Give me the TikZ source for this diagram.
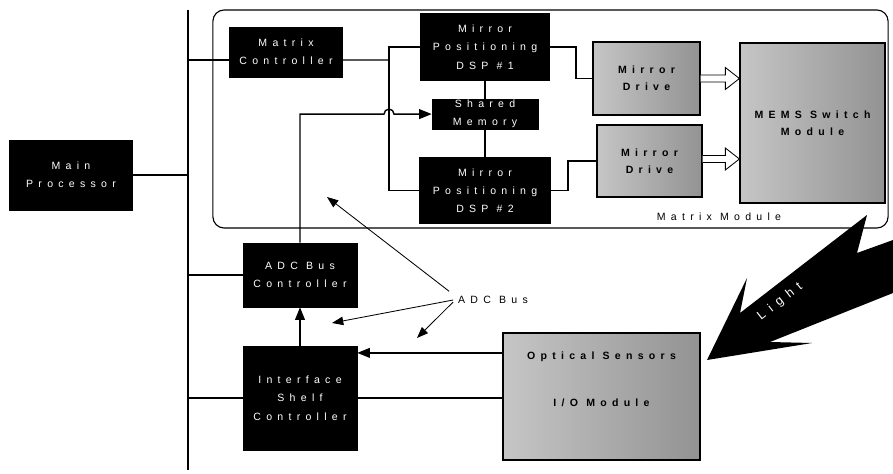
\documentclass[tikz,border=0pt]{standalone}
\usepackage{fontspec}
\newfontfamily\boxfont[LetterSpace=50]{Liberation Sans}
\usetikzlibrary{arrows.meta, positioning, calc}

\begin{document}
\begin{tikzpicture}[
x=0.025cm, y=-0.025cm,
every node/.style={font=\boxfont\fontsize{7.5}{13}\selectfont},
blackbox/.style={draw, fill=black, text=white, align=center, inner sep=0pt},
graybox/.style={draw, thick, left color=gray!45, right color=gray!85, align=center, inner sep=0pt,
  font=\boxfont\bfseries\fontsize{7.5}{12}\selectfont},
module/.style={draw, thick, rounded corners=8pt, inner sep=0pt},
link/.style={line width=1pt},
arrow/.style={line width=1pt, -{Triangle[length=9pt, width=7pt]}},
pointer/.style={semithick, -{Triangle[length=8pt, width=6pt]}},
fatarrow/.style={semithick, fill=white, to path={
  let \p1=(\tikztostart), \p2=(\tikztotarget) in
  (\x1,\y1+2.5pt) -- (\x2-10pt,\y1+2.5pt) -- (\x2-10pt,\y1+7.8pt) -- (\x2,\y1)
  -- (\x2-10pt,\y1-7.8pt) -- (\x2-10pt,\y1-2.5pt) -- (\x1,\y1-2.5pt)}}
]
\useasboundingbox (0,0) rectangle (893,473);

% matrix module frame
\node[module, minimum width=16.875cm, minimum height=5.45cm] (module) at (550.5,119) {};
\node (modlbl) at (719,217) {Matrix Module};

% system bus
\coordinate (bustop) at (188,10);
\coordinate (busbot) at (188,470);
\draw[link] (bustop) -- (busbot);

\node[blackbox, minimum width=3.075cm, minimum height=1.75cm] (main) at (71,175) {Main\\Processor};
\node[blackbox, minimum width=2.825cm, minimum height=1.25cm] (mctrl) at (286,52) {Matrix\\Controller};
\node[blackbox, minimum width=3.225cm, minimum height=1.675cm] (dsp1) at (485,47) {Mirror\\Positioning\\DSP \#1};
\node[blackbox, minimum width=2.65cm, minimum height=0.75cm, below=0.45cm of dsp1] (shmem) {Shared\\Memory};
\node[blackbox, minimum width=3.275cm, minimum height=1.65cm, below=0.7cm of shmem] (dsp2) {Mirror\\Positioning\\DSP \#2};
\node[graybox, minimum width=2.675cm, minimum height=1.825cm] (drive1) at (646.5,78.5) {Mirror\\Drive};
\node[graybox, minimum width=2.625cm, minimum height=1.8cm] (drive2) at (649.5,161) {Mirror\\Drive};
\node[graybox, minimum width=3.625cm, minimum height=4cm] (mems) at (812.5,123) {MEMS Switch\\Module};
\node[blackbox, minimum width=2.85cm, minimum height=1.6cm] (adcctrl) at (300,275) {ADC Bus\\Controller};
\node[blackbox, minimum width=2.85cm, minimum height=2.6cm] (isc) at (300,398) {Interface\\Shelf\\Controller};
\node[graybox, minimum width=4.925cm, minimum height=3.175cm] (optic) at (601.5,396.5) {};
\node[below=0.35cm of optic.north, font=\boxfont\bfseries\fontsize{7.5}{12}\selectfont] (opticlbl) {Optical Sensors};
\node[below=0.7cm of opticlbl, font=\boxfont\bfseries\fontsize{7.5}{12}\selectfont] (iolbl) {I/O Module};

% bus taps
\draw[link] (main.east) -- (main.east -| bustop);
\draw[link] ([yshift=-0.2cm]mctrl.west) -- ([yshift=-0.2cm]mctrl.west -| bustop);
\draw[link] (adcctrl.west) -- (adcctrl.west -| bustop);
\draw[link] (isc.west) -- (isc.west -| bustop);

% matrix controller to DSPs
\coordinate (jn) at (389,60);
\draw[link] ([yshift=-0.2cm]mctrl.east) -- (jn);
\draw[link] (dsp1.west) -| (jn |- dsp2.west) -- (dsp2.west);
\draw[link] (shmem.north) -- (shmem.north |- dsp1.south);
\draw[link] (shmem.south) -- (shmem.south |- dsp2.north);
\draw[link] (dsp1.east) -- ++(26,0) |- (drive1.west);
\draw[link] (dsp2.east) -- ++(17,0) |- (drive2.west);
\draw[fatarrow] (drive1.east) to (drive1.east -| mems.west);
\draw[fatarrow] ([yshift=0.05cm]drive2.east) to ([yshift=0.05cm]drive2.east -| mems.west);

% ADC bus into shared memory, hopping the DSP feed
\draw[arrow] (adcctrl.north) -- (adcctrl.north |- shmem.west) -- ($(jn |- shmem.west)+(-5,0)$)
  arc[start angle=180, end angle=360, radius=5] -- (shmem.west);

\draw[arrow] (isc.north) -- (adcctrl.south);
\draw[arrow] ([yshift=1.09cm]optic.west) -- ([yshift=1.09cm]optic.west -| isc.east);
\draw[link] (isc.east) -- (isc.east -| optic.west);

% ADC bus callout
\node (adclbl) at (493,300) {ADC Bus};
\coordinate (tipa) at (327,197);
\coordinate (tipb) at (332,323);
\coordinate (tipc) at (417,338);
\draw[pointer] ([xshift=-0.1cm]adclbl.north west) -- (tipa);
\draw[pointer] (adclbl.west) -- (tipb);
\draw[pointer] ([yshift=-0.05cm]adclbl.west) -- (tipc);

% light
\fill (707,360) -- (747,278) -- (740,313) -- (867,215) -- (857,253) -- (893,240)
  -- (893,293) -- (770,342) -- (812,343) -- cycle;
\node[text=white, rotate=38, font=\boxfont\fontsize{9}{11}\selectfont] (light) at (780,302) {Light};

\end{tikzpicture}
\end{document}
